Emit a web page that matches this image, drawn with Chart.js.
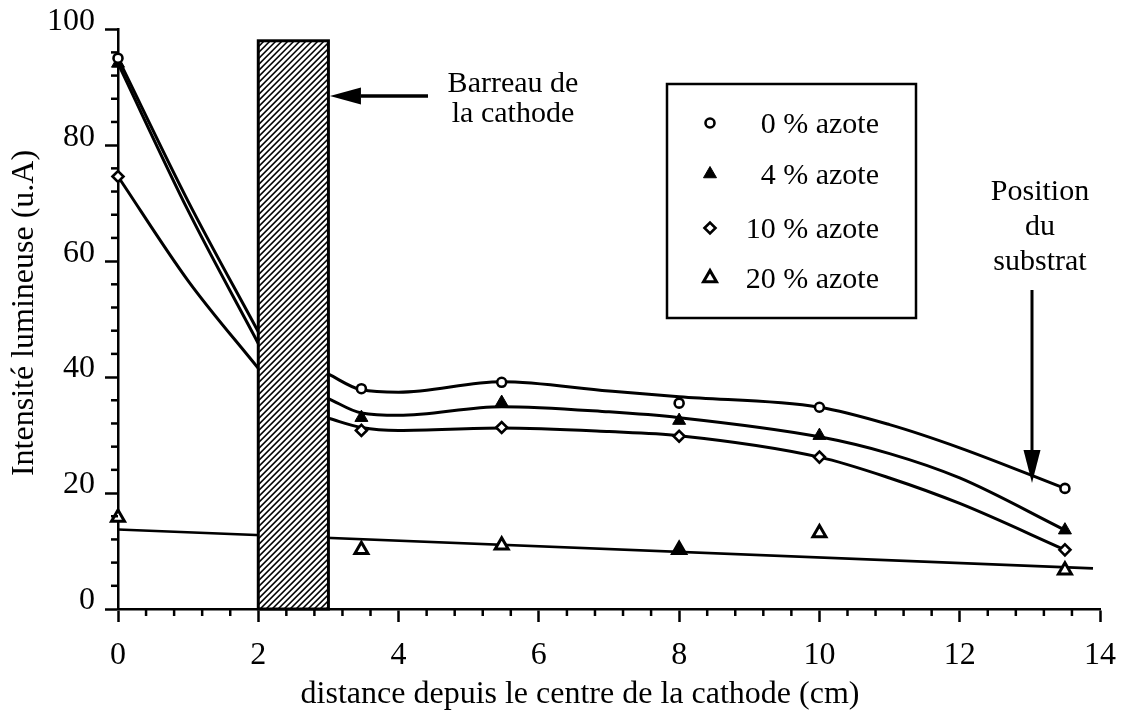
<!DOCTYPE html>
<html>
<head>
<meta charset="utf-8">
<title>Intensité lumineuse</title>
<script src="https://cdn.jsdelivr.net/npm/chart.js@4/dist/chart.umd.min.js"></script>
<style>
  html, body { margin: 0; padding: 0; background: #ffffff; }
  #wrap { width: 1130px; height: 718px; position: relative; }
</style>
</head>
<body>
<div id="wrap"><canvas id="chart" width="1130" height="718"></canvas></div>
<script>
// Measured points: distance from the cathode centre (cm) and light intensity (u.A)
const distances = [0, 3.47, 5.47, 8, 10, 13.5];
const azote0  = [95.0, 38.0, 39.1, 35.5, 34.8, 20.8];
const azote4  = [94.1, 33.0, 35.6, 32.5, 29.9, 13.6];
const azote10 = [74.6, 30.8, 31.3, 29.8, 26.2, 10.2];
const azote20 = [15.8, 10.2, 11.0, 10.2, 13.1, 6.7];

// Hand-drawn smoothing curves, split by the cathode bar (2 to 3 cm)
const leftX    = [0, 1, 2];
const left0    = [95.0, 70.3, 47.8];
const left4    = [94.1, 68.7, 45.8];
const left10   = [74.6, 56.6, 41.5];
const rightX   = [3, 3.47, 4, 5.47, 7, 8, 10, 11, 12, 13.5];
const right0   = [40.5, 37.8, 37.4, 39.2, 37.6, 36.6, 34.8, 31.8, 27.8, 20.8];
const right4   = [36.3, 33.8, 33.4, 34.9, 34.0, 33.0, 29.7, 26.8, 22.6, 13.6];
const right10  = [32.9, 31.3, 30.8, 31.2, 30.6, 29.9, 26.2, 22.6, 18.2, 10.2];

// Straight trend line for 20 % nitrogen
const fit20X = [0, 13.9];
const fit20  = [13.7, 7.0];

// Axis ticks
const xTickValues = [0, 2, 4, 6, 8, 10, 12, 14];
const yTickValues = [0, 20, 40, 60, 80, 100];
const xMinorStep = 0.4;
const yMinorStep = 4;

// Cathode bar extent (cm) and height (u.A)
const cathodeBar = [2, 3];
const cathodeBarHeight = 98;

const seriesLabels = ['0 % azote', '4 % azote', '10 % azote', '20 % azote'];

const FONT = "'Liberation Serif', 'Times New Roman', Times, serif";
const INK = '#000000';

const toXY = (xs, ys) => xs.map((x, i) => ({ x: x, y: ys[i] }));

const markerStyles = [
  { pointStyle: 'circle',   pointRadius: 4.5, pointBorderWidth: 2.6, pointBackgroundColor: '#ffffff' },
  { pointStyle: 'triangle', pointRadius: 7.5, pointBorderWidth: 1,   pointBackgroundColor: INK },
  { pointStyle: 'rectRot',  pointRadius: 5.5, pointBorderWidth: 2.6, pointBackgroundColor: '#ffffff' },
  { pointStyle: 'triangle', pointRadius: 7.5, pointBorderWidth: 3,   pointBackgroundColor: '#ffffff' }
];

function curveDataset(xs, ys, width) {
  return {
    data: toXY(xs, ys),
    showLine: true,
    borderColor: INK,
    borderWidth: width,
    pointRadius: 0,
    cubicInterpolationMode: 'monotone',
    fill: false,
    clip: false,
    order: 2
  };
}

function pointDataset(label, ys, style) {
  return Object.assign({
    label: label,
    data: toXY(distances, ys),
    showLine: false,
    pointBorderColor: INK,
    clip: false,
    order: 1
  }, style);
}

// Cathode bar: white box with diagonal hatching, drawn over the curves
const cathodePlugin = {
  id: 'cathode',
  afterDatasetsDraw(chart) {
    const { ctx, scales: { x, y } } = chart;
    const left = x.getPixelForValue(cathodeBar[0]);
    const right = x.getPixelForValue(cathodeBar[1]);
    const top = y.getPixelForValue(cathodeBarHeight);
    const bottom = y.getPixelForValue(0);
    ctx.save();
    ctx.fillStyle = '#ffffff';
    ctx.fillRect(left, top, right - left, bottom - top);
    ctx.beginPath();
    ctx.rect(left, top, right - left, bottom - top);
    ctx.clip();
    ctx.strokeStyle = INK;
    ctx.lineWidth = 1.6;
    const h = bottom - top;
    for (let s = left - h; s < right + 6; s += 6) {
      ctx.beginPath();
      ctx.moveTo(s, bottom);
      ctx.lineTo(s + h, top);
      ctx.stroke();
    }
    ctx.restore();
    ctx.save();
    ctx.strokeStyle = INK;
    ctx.lineWidth = 3;
    ctx.strokeRect(left, top, right - left, bottom - top);
    ctx.restore();
  }
};

function arrow(ctx, x1, y1, x2, y2, headLen, headHalf, width) {
  const ang = Math.atan2(y2 - y1, x2 - x1);
  const bx = x2 - Math.cos(ang) * headLen;
  const by = y2 - Math.sin(ang) * headLen;
  ctx.save();
  ctx.strokeStyle = INK;
  ctx.fillStyle = INK;
  ctx.lineWidth = width;
  ctx.beginPath();
  ctx.moveTo(x1, y1);
  ctx.lineTo(bx, by);
  ctx.stroke();
  ctx.beginPath();
  ctx.moveTo(x2, y2);
  ctx.lineTo(bx - Math.sin(ang) * headHalf, by + Math.cos(ang) * headHalf);
  ctx.lineTo(bx + Math.sin(ang) * headHalf, by - Math.cos(ang) * headHalf);
  ctx.closePath();
  ctx.fill();
  ctx.restore();
}

// Minor ticks, axis titles, annotations and the boxed legend
const decorPlugin = {
  id: 'decor',
  afterDraw(chart) {
    const { ctx, scales: { x, y } } = chart;
    const ax = x.getPixelForValue(0);
    const ay = y.getPixelForValue(0);
    ctx.save();
    ctx.strokeStyle = INK;
    ctx.lineWidth = 2.5;
    for (let k = 1; k * yMinorStep < 100; k++) {
      if ((k * yMinorStep) % 20 === 0) continue;
      const py = y.getPixelForValue(k * yMinorStep);
      ctx.beginPath(); ctx.moveTo(ax, py); ctx.lineTo(ax - 7, py); ctx.stroke();
    }
    for (let k = 1; k * xMinorStep < 14 - 1e-9; k++) {
      if (k % 5 === 0) continue;
      const px = x.getPixelForValue(k * xMinorStep);
      ctx.beginPath(); ctx.moveTo(px, ay); ctx.lineTo(px, ay + 7); ctx.stroke();
    }
    ctx.restore();

    ctx.save();
    ctx.fillStyle = INK;
    ctx.font = '32px ' + FONT;
    ctx.textAlign = 'center';
    ctx.textBaseline = 'alphabetic';
    ctx.fillText('distance depuis le centre de la cathode (cm)', 580, 703);
    ctx.save();
    ctx.translate(33, 313);
    ctx.rotate(-Math.PI / 2);
    ctx.fillText('Intensité lumineuse (u.A)', 0, 0);
    ctx.restore();

    ctx.font = '30px ' + FONT;
    ctx.fillText('Barreau de', 513, 92);
    ctx.fillText('la cathode', 513, 122);
    ctx.fillText('Position', 1040, 200);
    ctx.fillText('du', 1040, 235);
    ctx.fillText('substrat', 1040, 270);
    ctx.restore();

    arrow(ctx, 428, y.getPixelForValue(88.5), x.getPixelForValue(cathodeBar[1]) + 1.5, y.getPixelForValue(88.5), 31, 8.5, 3.5);
    arrow(ctx, 1032, 290, 1032, 483, 33, 8.5, 3);

    // legend box
    const bx = 667, by = 84, bw = 249, bh = 234;
    ctx.save();
    ctx.strokeStyle = INK;
    ctx.lineWidth = 2.5;
    ctx.strokeRect(bx, by, bw, bh);
    const rows = [123, 174, 228, 278];
    ctx.font = '30px ' + FONT;
    ctx.fillStyle = INK;
    ctx.textAlign = 'right';
    ctx.textBaseline = 'alphabetic';
    seriesLabels.forEach((lab, i) => {
      const st = markerStyles[i];
      ctx.save();
      ctx.fillStyle = st.pointBackgroundColor;
      ctx.strokeStyle = INK;
      ctx.lineWidth = st.pointBorderWidth;
      Chart.helpers.drawPoint(ctx, { pointStyle: st.pointStyle, radius: st.pointRadius, rotation: 0, borderWidth: st.pointBorderWidth }, 710, rows[i]);
      ctx.restore();
      ctx.fillText(lab, 879, rows[i] + 10);
    });
    ctx.restore();
  }
};

// The 20 % marker at 8 cm sits on its trend line and prints solid
const points20 = pointDataset(seriesLabels[3], azote20, markerStyles[3]);
points20.pointBackgroundColor = distances.map(d => (d === 8 ? INK : '#ffffff'));

const datasets = [
  curveDataset(leftX, left0, 3),
  curveDataset(leftX, left4, 3),
  curveDataset(leftX, left10, 3),
  curveDataset(rightX, right0, 3),
  curveDataset(rightX, right4, 3),
  curveDataset(rightX, right10, 3),
  curveDataset(fit20X, fit20, 2.6),
  pointDataset(seriesLabels[0], azote0, markerStyles[0]),
  pointDataset(seriesLabels[1], azote4, markerStyles[1]),
  pointDataset(seriesLabels[2], azote10, markerStyles[2]),
  points20
];

new Chart(document.getElementById('chart'), {
  type: 'scatter',
  data: { datasets: datasets },
  plugins: [cathodePlugin, decorPlugin],
  options: {
    responsive: false,
    animation: false,
    devicePixelRatio: 1,
    layout: { padding: { left: 0, top: 28, right: 26, bottom: 0 } },
    plugins: { legend: { display: false }, tooltip: { enabled: false } },
    scales: {
      x: {
        type: 'linear',
        min: 0,
        max: 14,
        afterBuildTicks: (s) => { s.ticks = xTickValues.map(v => ({ value: v })); },
        afterFit: (s) => { s.height = 109; },
        border: { display: true, color: INK, width: 2.5 },
        grid: { display: true, drawOnChartArea: false, drawTicks: true, tickLength: 13, tickWidth: 2.5, tickColor: INK },
        ticks: { color: INK, font: { family: FONT, size: 32 }, padding: 14, maxRotation: 0, autoSkip: false }
      },
      y: {
        type: 'linear',
        min: 0,
        max: 100,
        afterBuildTicks: (s) => { s.ticks = yTickValues.map(v => ({ value: v })); },
        afterFit: (s) => { s.width = 118; },
        border: { display: true, color: INK, width: 2.5 },
        grid: { display: true, drawOnChartArea: false, drawTicks: true, tickLength: 13, tickWidth: 2.5, tickColor: INK },
        ticks: { color: INK, font: { family: FONT, size: 32 }, padding: 10, labelOffset: -8, autoSkip: false }
      }
    }
  }
});
</script>
</body>
</html>
